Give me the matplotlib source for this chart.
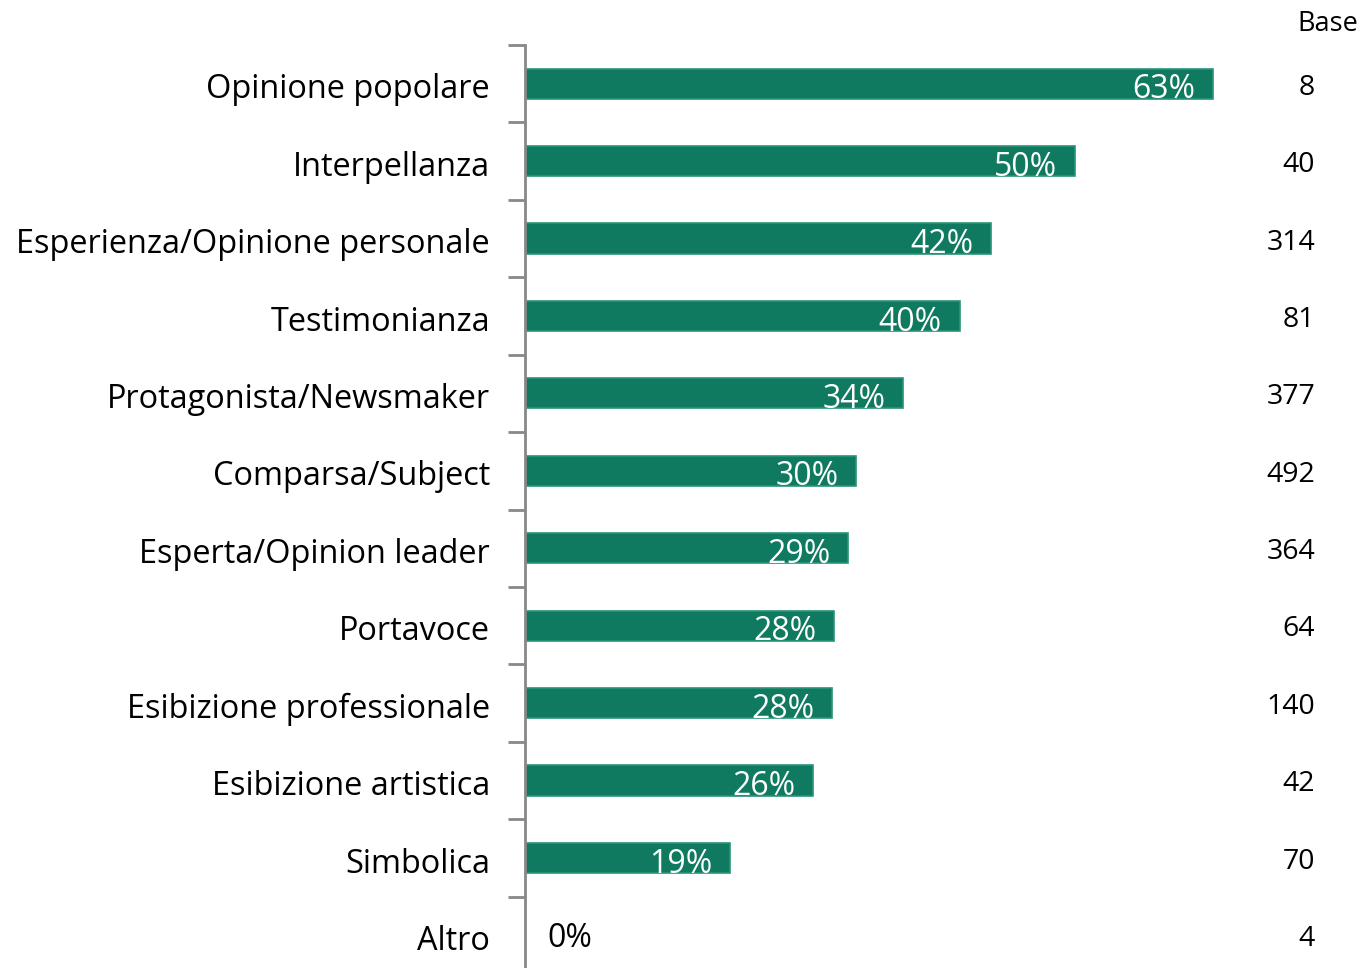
import matplotlib.pyplot as plt

categories = ["Opinione popolare", "Interpellanza", "Esperienza/Opinione personale",
              "Testimonianza", "Protagonista/Newsmaker", "Comparsa/Subject",
              "Esperta/Opinion leader", "Portavoce", "Esibizione professionale",
              "Esibizione artistica", "Simbolica", "Altro"]
values = [62.5, 50.0, 42.4, 39.5, 34.4, 30.1, 29.4, 28.1, 27.9, 26.2, 18.6, 0.0]
bases = [8, 40, 314, 81, 377, 492, 364, 64, 140, 42, 70, 4]

plt.rcParams['font.family'] = ['Open Sans', 'DejaVu Sans']

fig = plt.figure(figsize=(13.64, 9.68), dpi=100)
ax = fig.add_axes([525/1364, 1 - 45/968 - 929/968, 690/1364, 929/968])

y = list(range(len(categories)))
ax.barh(y, values, height=0.39, color='#0f7a60', edgecolor='#2a9478', linewidth=1.2)
ax.set_ylim(len(categories) - 0.5, -0.5)
ax.set_xlim(0, 690 / 11.0)

for i, v in enumerate(values):
    if v > 0:
        ax.text(v - 1.6, i + 0.08, f"{int(v + 0.5)}%", color='white', fontsize=23,
                ha='right', va='center')
    else:
        ax.text(2.0, i + 0.04, "0%", color='black', fontsize=23, ha='left', va='center')
    ax.text(1315/1364, 1 - (49 + 77.4 * (i + 0.5)) / 968, str(bases[i]), transform=fig.transFigure,
            fontsize=20.5, ha='right', va='center')

fig.text(1358/1364, 1 - 24/968, "Base", fontsize=19.5, ha='right', va='center')

ax.set_yticks([i - 0.5 for i in range(len(categories))] + [len(categories) - 0.5])
ax.set_yticklabels([])
ax.tick_params(axis='y', length=12, width=2, color='#888888', direction='out')
for i, c in enumerate(categories):
    ax.text(-35 / 11.0, i + 0.08, c, fontsize=23.4, ha='right', va='center')

ax.set_xticks([])
for s in ['top', 'right', 'bottom']:
    ax.spines[s].set_visible(False)
ax.spines['left'].set_color('#888888')
ax.spines['left'].set_linewidth(2)

fig.savefig("out.png", dpi=100)
